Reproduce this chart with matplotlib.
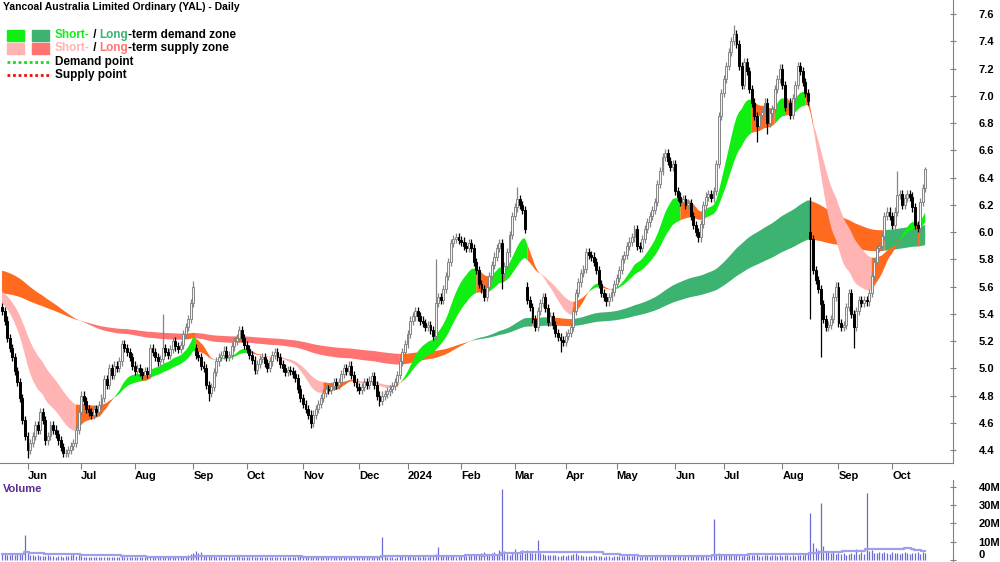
import numpy as np
import pandas as pd
import matplotlib
matplotlib.use('Agg')
import matplotlib.pyplot as plt
from matplotlib.patches import Rectangle
from matplotlib.lines import Line2D

plt.rcParams['font.family'] = ['Liberation Sans', 'DejaVu Sans']

# daily closes, YAL, 18 May 2023 .. 18 Oct 2024
closes = [
    5.42, 5.35, 5.22, 5.15, 5.08, 4.98, 4.90, 4.78, 4.62, 4.50,
    4.40, 4.45, 4.50, 4.58, 4.55, 4.68, 4.62, 4.47, 4.50, 4.58,
    4.55, 4.52, 4.47, 4.42, 4.38, 4.38, 4.40, 4.43, 4.45, 4.55,
    4.68, 4.80, 4.76, 4.70, 4.68, 4.66, 4.70, 4.68, 4.73, 4.78,
    4.92, 4.88, 5.00, 4.95, 5.02, 5.00, 5.05, 5.18, 5.15, 5.12,
    5.08, 5.02, 4.98, 5.00, 4.97, 4.95, 4.98, 4.96, 5.15, 5.12,
    5.08, 5.05, 5.07, 5.15, 5.12, 5.10, 5.14, 5.20, 5.16, 5.14,
    5.17, 5.25, 5.30, 5.36, 5.48, 5.60, 5.10, 5.08, 5.02, 5.00,
    4.88, 4.82, 4.86, 4.97, 5.05, 5.08, 5.10, 5.13, 5.08, 5.10,
    5.16, 5.20, 5.22, 5.28, 5.22, 5.17, 5.14, 5.10, 5.06, 4.99,
    5.03, 5.07, 5.08, 5.04, 5.00, 5.05, 5.10, 5.12, 5.08, 5.03,
    5.00, 4.97, 4.99, 4.98, 4.96, 4.93, 4.85, 4.78, 4.74, 4.70,
    4.66, 4.60, 4.66, 4.70, 4.74, 4.78, 4.82, 4.85, 4.84, 4.87,
    4.90, 4.88, 4.90, 4.96, 5.00, 4.98, 5.02, 4.95, 4.90, 4.86,
    4.84, 4.86, 4.90, 4.88, 4.91, 4.94, 4.88, 4.80, 4.76, 4.80,
    4.81, 4.83, 4.85, 4.87, 4.90, 4.95, 5.05, 5.12, 5.18, 5.25,
    5.35, 5.38, 5.42, 5.38, 5.35, 5.33, 5.30, 5.32, 5.28, 5.24,
    5.48, 5.52, 5.50, 5.58, 5.68, 5.78, 5.92, 5.95, 5.96, 5.94,
    5.93, 5.90, 5.88, 5.92, 5.88, 5.78, 5.72, 5.62, 5.58, 5.52,
    5.60, 5.68, 5.76, 5.82, 5.88, 5.92, 5.70, 5.75, 5.85, 5.98,
    6.12, 6.18, 6.24, 6.20, 6.16, 6.02, 5.50, 5.45, 5.36, 5.30,
    5.42, 5.48, 5.52, 5.44, 5.34, 5.38, 5.32, 5.26, 5.23, 5.21,
    5.19, 5.24, 5.26, 5.30, 5.42, 5.55, 5.63, 5.70, 5.73, 5.85,
    5.83, 5.82, 5.78, 5.72, 5.62, 5.55, 5.52, 5.49, 5.52, 5.56,
    5.62, 5.66, 5.72, 5.80, 5.83, 5.90, 5.93, 5.96, 6.02, 5.90,
    5.88, 5.95, 6.02, 6.07, 6.12, 6.16, 6.22, 6.35, 6.45, 6.55,
    6.58, 6.52, 6.48, 6.50, 6.30, 6.26, 6.22, 6.24, 6.20, 6.21,
    6.12, 6.05, 6.00, 5.96, 6.06, 6.20, 6.26, 6.28, 6.25, 6.30,
    6.50, 6.85, 7.02, 7.12, 7.22, 7.32, 7.40, 7.45, 7.38, 7.22,
    7.08, 7.25, 7.18, 7.05, 6.95, 6.85, 6.78, 6.86, 6.88, 6.95,
    6.80, 6.87, 6.90, 7.05, 7.12, 7.20, 7.08, 6.92, 6.95, 6.86,
    6.98, 7.08, 7.22, 7.18, 7.10, 7.02, 6.96, 5.95, 5.72, 5.65,
    5.58, 5.47, 5.36, 5.30, 5.32, 5.36, 5.52, 5.60, 5.33, 5.30,
    5.32, 5.45, 5.55, 5.40, 5.30, 5.42, 5.50, 5.48, 5.50, 5.49,
    5.55, 5.68, 5.78, 5.88, 5.90, 5.97, 6.12, 6.15, 6.12, 6.05,
    6.15, 6.27, 6.28, 6.20, 6.25, 6.28, 6.26, 6.18, 6.05, 6.03,
    6.22, 6.32, 6.46,
]

# volume, millions of shares
volumes_m = [
    3.5, 3.2, 2.8, 3.0, 3.4, 2.9, 3.1, 3.3, 4.0, 13.5, 3.6, 2.8, 2.5, 2.2, 2.6, 2.4, 2.1, 2.3, 3.0, 2.2,
    2.0, 1.8, 2.4, 2.1, 1.9, 2.2, 2.0, 2.5, 3.8, 2.3, 2.6, 2.1, 1.8, 1.6, 1.9, 1.7, 1.5, 1.8, 1.6, 1.7,
    1.9, 1.6, 1.5, 1.8, 1.7, 1.4, 1.6, 2.0, 1.8, 1.5, 1.7, 1.6, 1.4, 1.5, 1.8, 1.6, 1.5, 1.7, 2.1, 1.9,
    1.8, 1.6, 1.5, 2.4, 1.9, 1.7, 2.0, 1.8, 1.7, 1.9, 2.2, 2.0, 2.3, 2.6, 3.2, 4.0, 5.0, 3.6, 4.4, 2.8,
    2.5, 3.0, 2.2, 2.0, 1.8, 1.9, 2.1, 1.7, 1.8, 2.0, 1.6, 1.9, 2.2, 2.0, 1.8, 1.7, 1.6, 1.9, 2.1, 1.8,
    1.7, 1.6, 1.8, 1.5, 1.7, 1.9, 1.6, 1.8, 1.5, 1.6, 1.7, 1.9, 1.5, 1.6, 1.8, 1.7, 2.0, 2.2, 1.9, 1.8,
    2.3, 2.0, 1.8, 1.7, 1.6, 1.9, 1.5, 1.6, 1.8, 1.7, 1.5, 1.6, 1.9, 1.7, 1.8, 1.6, 1.5, 1.7, 1.9, 1.6,
    1.5, 1.7, 1.6, 1.8, 1.5, 1.6, 1.9, 2.0, 1.7, 12.8, 2.2, 1.6, 1.5, 1.4, 1.3, 1.5, 2.4, 2.8, 2.0, 2.3,
    2.6, 2.1, 1.9, 2.0, 1.8, 2.2, 1.7, 1.9, 2.4, 2.0, 3.5, 7.2, 2.6, 2.0, 2.3, 3.0, 2.5, 2.2, 1.9, 2.1,
    2.4, 2.0, 2.2, 2.5, 2.8, 3.0, 3.3, 2.6, 3.8, 4.2, 3.5, 3.0, 3.6, 4.6, 3.2, 5.2, 39.0, 4.8, 3.5, 3.0,
    4.0, 6.0, 4.6, 3.4, 5.2, 3.8, 5.6, 4.4, 3.6, 4.0, 11.0, 3.8, 3.2, 2.8, 2.6, 3.0, 2.5, 2.7, 2.4, 2.2,
    2.6, 2.3, 2.8, 2.5, 3.2, 3.6, 2.9, 2.5, 2.3, 2.1, 2.4, 2.2, 2.6, 2.0, 2.3, 2.1, 1.9, 2.2, 2.0, 1.8,
    2.1, 2.3, 2.0, 2.2, 2.4, 2.6, 2.1, 2.0, 2.5, 2.2, 1.9, 2.1, 2.3, 2.0, 1.8, 2.2, 2.6, 3.0, 2.8, 2.4,
    2.6, 2.2, 2.0, 2.4, 2.9, 2.3, 2.1, 1.9, 2.0, 2.2, 2.4, 2.6, 2.1, 2.3, 2.5, 2.2, 2.0, 1.9, 2.3, 22.5,
    3.5, 4.0, 3.2, 2.8, 2.6, 2.5, 3.0, 3.3, 2.8, 2.6, 2.4, 2.7, 2.3, 2.5, 2.9, 2.6, 3.1, 2.4, 2.2, 2.6,
    2.8, 2.3, 2.5, 2.7, 2.4, 2.6, 2.2, 2.5, 2.9, 2.3, 2.6, 2.4, 3.0, 2.7, 2.5, 3.2, 4.0, 25.5, 9.5, 6.8,
    5.5, 31.0, 7.5, 5.0, 4.6, 3.8, 4.2, 3.5, 3.9, 3.2, 3.6, 3.0, 3.4, 3.8, 3.1, 5.8, 3.5, 4.5, 3.2, 36.5,
    4.8, 5.2, 4.0, 3.6, 4.4, 3.9, 4.6, 3.8, 3.5, 4.2, 3.7, 4.0, 3.4, 3.9, 4.5, 3.6, 3.3, 4.1, 3.8, 4.6,
    3.5, 4.2, 3.9,
]

# gap opens and long wicks that stand out on the chart
gap_opens = {76: 5.15, 206: 5.60, 317: 6.00}
high_marks = {63: 5.40, 75: 5.64, 170: 5.80, 202: 6.33, 206: 5.63, 287: 7.52,
              317: 6.26, 351: 6.45, 362: 6.48}
low_marks = {10: 4.34, 24: 4.35, 81: 4.76, 121: 4.56, 148: 4.72, 196: 5.58,
             219: 5.12, 296: 6.66, 300: 6.72, 317: 5.36, 321: 5.08, 334: 5.15}

# zone averages: (span, starting value read at the left edge)
short_fast, short_slow = (18, 5.48), (34, 5.57)
long_fast, long_slow = (150, 5.72), (250, 5.55)

asx_holidays = ['2023-06-12', '2023-12-25', '2023-12-26', '2024-01-01', '2024-01-26',
                '2024-03-29', '2024-04-01', '2024-04-25', '2024-06-10']

closes = np.array(closes)
n = len(closes)
x = np.arange(n)
dates = pd.bdate_range('2023-05-18', '2024-10-31')
dates = dates[~dates.isin(pd.to_datetime(asx_holidays))][:n]
volumes = np.array(volumes_m) * 1e6


def ema(values, span, seed):
    a = 2.0 / (span + 1)
    out, e = [], seed
    for v in values:
        e = e + a * (v - e)
        out.append(e)
    return np.array(out)


fig = plt.figure(figsize=(10, 5.62), dpi=100)
ax = fig.add_axes([0, 99 / 562, 0.953, 463 / 562])
axv = fig.add_axes([0, 0, 0.953, 82 / 562], sharex=ax)


def draw_zone(fast, slow, c_dem, c_sup, c_mix, z):
    f = ema(closes, *fast)
    s = ema(closes, *slow)
    demand = f >= s
    mixed = np.where(demand, closes < f, closes > f)
    lo, hi = np.minimum(f, s), np.maximum(f, s)
    for mask, col in [(demand & ~mixed, c_dem), (~demand & ~mixed, c_sup), (mixed, c_mix)]:
        ext = mask | np.r_[False, mask[:-1]]
        ax.fill_between(x, lo, hi, where=ext, color=col, lw=0, zorder=z)


orange = '#ff6a1f'
draw_zone(long_fast, long_slow, '#3cb371', '#ff7373', orange, 1)
draw_zone(short_fast, short_slow, '#11ee11', '#ffb3b3', orange, 2)

# candles
opens = np.r_[closes[0] + 0.03, closes[:-1]]
for k, v in gap_opens.items():
    opens[k] = v
highs = np.maximum(opens, closes) + 0.03
lows = np.minimum(opens, closes) - 0.03
for k, v in high_marks.items():
    highs[k] = v
for k, v in low_marks.items():
    lows[k] = v
up = closes >= opens
grey = '#858585'
ax.vlines(x[up], lows[up], highs[up], color=grey, lw=0.9, zorder=3)
ax.vlines(x[~up], lows[~up], highs[~up], color='black', lw=0.9, zorder=3)
ax.bar(x[up], (closes - opens)[up], bottom=opens[up], width=0.75,
       color='#f4f4f4', edgecolor=grey, lw=0.7, zorder=4)
ax.bar(x[~up], (opens - closes)[~up], bottom=closes[~up], width=0.75,
       color='black', edgecolor='black', lw=0.7, zorder=4)

ax.set_xlim(-0.8, 372.9)
ax.set_ylim(4.3046, 7.7028)
ax.yaxis.tick_right()
ax.set_yticks(np.arange(4.4, 7.61, 0.2))
ax.set_yticklabels([f'{v:.1f}' for v in np.arange(4.4, 7.61, 0.2)])

# month ticks at first trading day of each month
pos, labels = [], []
for i in range(1, n):
    if dates[i].month != dates[i - 1].month:
        pos.append(i)
        labels.append(str(dates[i].year) if dates[i].month == 1 else dates[i].strftime('%b'))
ax.set_xticks(pos)
ax.set_xticklabels(labels, ha='left')

for a in (ax, axv):
    for side in ('top', 'left'):
        a.spines[side].set_visible(False)
    a.spines['right'].set_color('#808080')
    a.tick_params(axis='y', direction='inout', length=5, color='#808080',
                  labelsize=8, pad=16, right=True, left=False)
    for lab in a.get_yticklabels():
        lab.set_fontweight('bold')
ax.spines['bottom'].set_color('#808080')
ax.tick_params(axis='x', direction='out', length=4, color='#808080', labelsize=8, pad=2)
for lab in ax.get_xticklabels():
    lab.set_fontweight('bold')

# volume
axv.vlines(x, 0, volumes, color='#6b6bd6', lw=0.9)
vol_avg = pd.Series(volumes).rolling(40, min_periods=1).mean()
axv.plot(x, vol_avg, color='#a0a0ea', lw=1.6, drawstyle='steps-mid')
axv.spines['bottom'].set_visible(False)
axv.tick_params(axis='x', bottom=False, labelbottom=False)
axv.yaxis.tick_right()
axv.set_ylim(-1.1e6, 43.8e6)
axv.set_yticks([0, 10e6, 20e6, 30e6, 40e6])
axv.set_yticklabels(['0', '10M', '20M', '30M', '40M'])
for lab in axv.get_yticklabels():
    lab.set_fontweight('bold')
axv.get_yticklabels()[0].set_va('bottom')
axv.patch.set_alpha(0)
fig.text(3 / 1000, 1 - 489 / 562, 'Volume', color='#5b2c91', fontsize=8,
         fontweight='bold', va='center')

# title and legend
fig.text(3 / 1000, 1 - 7 / 562, 'Yancoal Australia Limited Ordinary (YAL) - Daily',
         fontsize=7.5, fontweight='bold', va='center')


def px(xp, yp):
    return xp / 1000, 1 - yp / 562


def parts_text(x0, y0, parts):
    r = fig.canvas.get_renderer()
    xf, yf = px(x0, y0)
    for s, c in parts:
        t = fig.text(xf, yf, s, color=c, fontsize=8.5, fontweight='bold', va='center')
        w = t.get_window_extent(renderer=r).width
        xf += w / 1000


for (cx, cy, col) in [(7, 30, '#11ee11'), (32, 30, '#3cb371'),
                      (7, 43, '#ffb3b3'), (32, 43, '#ff7373')]:
    fx, fy = px(cx, cy + 11)
    fig.patches.append(Rectangle((fx, fy), 17 / 1000, 11 / 562, color=col,
                                 transform=fig.transFigure, figure=fig))

parts_text(55, 35, [('Short-', '#11ee11'), (' / ', 'black'), ('Long', '#3cb371'),
                    ('-term demand zone', 'black')])
parts_text(55, 48, [('Short-', '#ffb3b3'), (' / ', 'black'), ('Long', '#ff7373'),
                    ('-term supply zone', 'black')])
for yy, col, lab in [(62, '#11dd11', 'Demand point'), (75, '#ee1111', 'Supply point')]:
    x0, y0 = px(7, yy)
    x1, _ = px(49, yy)
    fig.lines.append(Line2D([x0, x1], [y0, y0], color=col, lw=2, ls=(0, (1, 1)),
                            transform=fig.transFigure, figure=fig))
    fig.text(55 / 1000, y0, lab, fontsize=8.5, fontweight='bold', va='center')

fig.savefig('out.png', dpi=100)
